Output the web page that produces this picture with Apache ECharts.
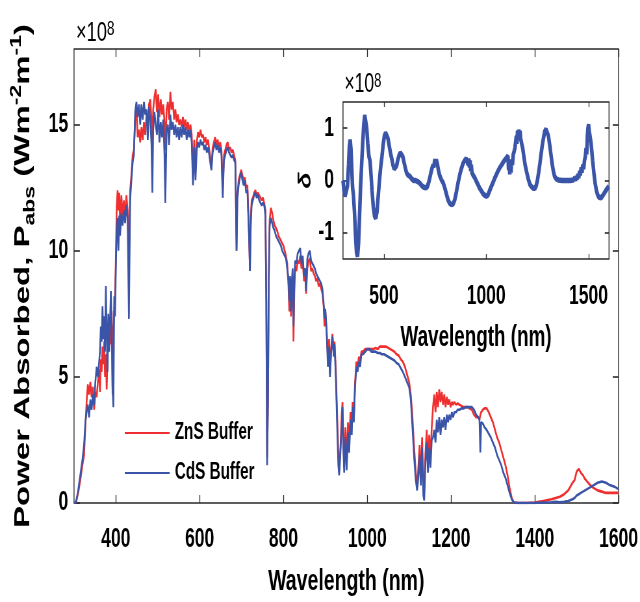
<!DOCTYPE html>
<html><head><meta charset="utf-8">
<script src="https://cdn.jsdelivr.net/npm/echarts@6/dist/echarts.min.js"></script>
<style>
html,body{margin:0;padding:0;background:#fff;overflow:hidden;}
#wrap{width:640px;height:602px;overflow:hidden;position:relative;}
#c{width:985px;height:602px;transform:scaleX(0.649746);transform-origin:0 0;position:absolute;left:0;top:0;}
</style></head><body><div id="wrap"><div id="c"></div></div>
<script>
// ---------- DATA (power absorbed, units of 1e8 W m^-2 m^-1) ----------
const wavelength = [300,305,310,315,320,324,327,330,333,336,339,342,345,348,351,354,357,360,362,364,366,368,370,372,374,376,378,380,382,384,386,388,390,392,394,396,398,400,402,404,406,408,410,413,416,419,422,425,428,431,434,437,440,443,446,449,452,455,458,461,464,467,470,473,476,479,482,485,487,489,492,495,498,501,504,507,510,513,516,518,521,524,527,530,533,536,539,542,545,548,551,554,557,560,563,566,569,572,575,578,581,584,587,590,593,596,599,602,605,608,611,614,617,620,623,626,628,631,634,637,640,643,646,649,652,655,658,661,664,667,670,673,676,679,682,685,687,688,690,693,696,699,702,705,708,711,714,716,718,720,722,724,727,730,733,736,739,742,745,748,751,754,757,759,761,763,765,767,770,773,776,779,782,785,788,791,794,797,800,803,806,809,812,814,816,818,820,822,824,826,828,831,834,837,840,843,846,849,852,854,857,860,863,866,869,872,875,878,881,884,887,890,893,896,898,900,903,906,909,911,914,917,920,922,925,928,931,933,936,939,941,943,945,948,951,954,957,960,963,965,968,971,974,977,980,983,986,990,995,1000,1005,1010,1015,1020,1025,1030,1035,1040,1045,1050,1055,1060,1065,1070,1075,1080,1085,1090,1095,1100,1104,1108,1112,1116,1119,1122,1125,1128,1131,1134,1136,1139,1142,1145,1148,1151,1154,1157,1160,1163,1166,1169,1172,1175,1178,1181,1184,1187,1190,1193,1196,1199,1202,1205,1208,1212,1216,1220,1225,1230,1235,1240,1245,1250,1255,1260,1265,1268,1270,1272,1276,1280,1285,1290,1295,1300,1305,1310,1315,1320,1325,1330,1335,1340,1345,1350,1360,1380,1400,1420,1440,1450,1460,1470,1480,1490,1495,1500,1505,1510,1515,1520,1530,1540,1550,1560,1570,1580,1590,1600];
const znsBuffer = [0,0.05,0.4,0.9,1.5,1.9,3.0,4.0,4.7,4.3,4.8,4.2,4.6,3.7,4.4,4.2,4.8,5.3,4.4,5.7,5.2,6.2,5.5,6.4,5.0,5.9,4.5,5.8,6.6,6.2,6.9,6.3,7.6,4.3,6.8,7.6,8.2,9.8,11.8,12.4,11.6,12.3,11.0,12.2,11.4,12.0,11.3,12.2,11.6,9.5,12.4,13.0,13.8,14.0,15.2,15.6,14.5,14.8,14.3,14.9,14.4,15.1,14.6,15.4,15.0,15.8,16.0,15.2,14.2,15.6,16.1,16.4,15.5,16.2,15.3,16.0,15.4,15.8,15.1,14.0,15.6,15.9,15.2,16.3,15.6,15.9,15.2,15.6,15.1,15.4,15.0,15.2,14.9,15.3,14.9,15.2,14.8,15.1,14.7,15.0,14.6,13.0,14.4,13.2,14.3,14.7,14.5,14.8,14.5,14.6,14.3,14.5,14.2,14.4,14.0,13.6,13.3,14.1,14.3,14.5,14.2,14.4,14.1,14.3,14.0,12.4,13.8,14.0,14.2,14.3,14.0,14.1,13.9,14.0,13.8,13.6,11.5,10.0,12.2,12.8,13.0,13.2,13.0,12.8,12.9,12.5,12.6,11.6,10.6,9.2,11.3,12.0,12.1,12.3,12.4,12.2,12.3,12.2,12.1,12.0,12.1,11.9,11.6,8.0,1.8,4.0,9.0,11.2,11.7,11.5,11.2,11.0,10.9,10.8,10.6,10.5,10.4,10.3,10.2,10.0,9.8,9.5,8.6,7.6,8.8,7.4,8.6,9.0,6.4,8.4,9.4,9.2,9.6,9.5,9.8,9.3,9.6,8.8,9.0,8.3,9.3,9.6,9.7,9.2,9.3,9.1,9.0,8.8,8.9,8.6,8.7,8.5,8.3,7.8,7.0,7.6,6.8,5.8,6.5,5.1,6.2,6.7,6.0,6.4,5.3,3.6,2.0,1.3,2.2,3.5,4.0,2.5,1.4,3.0,1.6,3.2,2.4,3.6,3.0,4.0,3.4,4.8,5.6,5.4,5.8,5.6,6.0,6.0,6.1,6.1,6.1,6.1,6.1,6.15,6.1,6.2,6.2,6.2,6.2,6.15,6.1,6.05,6.0,5.9,5.85,5.7,5.6,5.4,5.1,4.8,4.3,3.4,2.2,1.2,0.6,1.4,2.3,1.0,2.6,0.6,0.5,2.0,2.9,1.6,2.7,1.8,3.0,3.8,4.3,3.6,4.4,3.8,4.5,4.0,4.4,3.9,4.3,3.8,4.2,3.9,4.1,3.8,4.0,3.9,4.0,3.9,3.95,3.9,3.85,3.8,3.8,3.8,3.75,3.7,3.5,3.4,3.4,3.3,3.5,3.6,3.7,3.75,3.75,3.6,3.4,3.2,2.9,2.6,2.4,2.1,1.8,1.5,1.1,0.6,0.2,0.02,0,0,0.02,0.08,0.15,0.2,0.25,0.35,0.5,0.8,0.9,1.25,1.35,1.2,1.1,0.95,0.75,0.6,0.5,0.45,0.4,0.4,0.4,0.4];
const cdsBuffer = [0,0.05,0.5,1.1,1.7,2.3,3.2,3.6,3.9,3.4,4.1,3.7,4.3,3.9,4.8,5.4,5.0,5.6,6.0,7.0,6.4,7.8,6.5,7.4,6.0,8.6,6.8,5.2,7.5,6.0,7.2,8.4,7.0,4.6,3.8,8.2,7.4,9.5,10.8,11.3,10.0,11.4,10.6,11.5,11.0,11.6,11.1,11.8,11.3,7.3,12.0,12.8,13.5,13.8,15.5,15.9,15.3,15.8,15.0,15.8,15.2,15.9,15.4,15.6,14.4,15.7,15.2,14.2,12.3,14.8,15.5,15.0,14.6,15.6,14.3,15.1,14.5,15.2,13.8,11.9,14.8,15.0,14.2,15.4,14.8,15.1,14.6,15.0,14.5,14.9,14.4,14.9,14.5,15.0,14.6,14.9,14.4,14.8,14.5,14.8,14.3,12.6,14.1,12.8,14.0,14.3,14.1,14.4,14.2,14.3,14.0,14.2,13.9,14.1,13.8,13.4,13.2,13.9,14.1,14.3,14.0,14.2,13.9,14.1,13.8,12.1,13.6,13.8,14.0,14.1,13.9,13.9,13.7,13.8,13.6,13.5,11.3,10.0,12.0,12.6,12.9,13.1,12.8,12.6,12.8,12.3,12.4,11.4,10.5,9.2,11.0,11.8,12.0,12.2,12.3,12.1,12.2,12.0,12.0,11.8,11.9,11.8,11.4,8.0,1.5,4.0,8.8,11.0,11.3,11.1,10.9,10.8,10.6,10.5,10.4,10.3,10.2,10.0,10.0,9.8,9.7,9.3,8.9,8.0,9.0,7.6,8.8,9.3,7.0,8.8,9.6,9.5,9.9,10.0,10.1,9.5,9.8,9.0,9.3,8.4,9.7,9.9,10.0,9.6,9.6,9.4,9.3,9.1,9.1,8.9,8.8,8.7,8.5,7.9,7.3,7.7,6.9,5.4,6.2,5.0,6.0,6.6,5.8,6.3,5.0,3.2,1.5,1.1,2.0,3.0,3.8,2.2,1.2,2.6,1.3,2.8,2.0,3.3,2.7,3.8,3.2,4.6,5.4,5.2,5.6,5.4,5.9,5.9,6.0,6.1,6.1,6.0,6.0,6.0,5.95,5.95,5.9,5.9,5.85,5.8,5.75,5.7,5.65,5.55,5.5,5.35,5.2,5.0,4.8,4.6,4.1,3.0,1.8,0.9,0.5,1.0,1.9,0.7,2.2,0.3,0.1,1.6,2.4,1.2,2.2,1.4,2.5,2.6,2.9,2.4,3.3,2.8,3.4,2.7,3.3,3.0,3.4,2.9,3.5,3.2,3.5,3.3,3.6,3.4,3.6,3.6,3.7,3.7,3.75,3.75,3.8,3.8,3.8,3.8,3.7,3.5,3.4,3.3,2.0,3.2,3.15,3.0,2.9,2.75,2.6,2.4,2.2,1.9,1.7,1.5,1.2,1.0,0.7,0.4,0.15,0.02,0,0,0,0.02,0.03,0.05,0.03,0.05,0.08,0.15,0.2,0.3,0.35,0.4,0.45,0.5,0.6,0.7,0.8,0.85,0.8,0.7,0.65,0.55];
// inset: difference delta (units of 1e8)
const insetWavelength = [300,305,310,316,322,327,331,335,339,343,347,351,356,361,366,371,376,381,386,391,396,401,406,411,416,421,427,432,437,442,448,454,460,466,472,478,484,490,496,502,508,514,520,526,532,538,544,550,556,562,568,574,580,586,592,598,604,610,618,627,636,645,655,665,675,685,695,705,712,720,728,734,740,744,747,750,753,756,759,762,766,772,780,790,798,806,814,822,830,838,846,854,862,870,878,886,894,902,908,912,915,918,921,924,927,930,936,944,952,960,968,976,984,992,1000,1008,1016,1024,1032,1040,1048,1056,1064,1072,1080,1088,1096,1102,1106,1109,1112,1115,1118,1121,1124,1128,1132,1136,1140,1144,1147,1150,1153,1156,1159,1162,1165,1168,1172,1178,1184,1190,1198,1206,1214,1222,1230,1238,1244,1250,1256,1262,1268,1274,1280,1286,1292,1298,1304,1310,1316,1322,1328,1334,1342,1352,1370,1390,1410,1426,1432,1436,1440,1444,1448,1452,1456,1460,1464,1468,1472,1476,1480,1484,1488,1491,1494,1497,1500,1503,1506,1509,1512,1516,1520,1526,1532,1538,1544,1550,1556,1562,1568,1574,1580,1588,1596,1600];
const insetDelta = [0.0,-0.2,-0.3,-0.32,-0.1,0.3,0.65,0.78,0.6,0.2,-0.15,-0.28,-0.6,-1.05,-1.38,-1.45,-1.2,-0.65,-0.1,0.3,0.7,1.05,1.25,1.25,1.0,0.7,0.45,0.38,0.1,-0.2,-0.5,-0.68,-0.72,-0.6,-0.3,0.0,0.25,0.45,0.68,0.85,0.91,0.9,0.8,0.66,0.52,0.42,0.3,0.22,0.22,0.28,0.4,0.48,0.53,0.53,0.46,0.35,0.25,0.15,0.1,0.08,0.03,0.0,0.0,-0.02,-0.05,-0.1,-0.13,-0.14,-0.12,-0.02,0.12,0.22,0.3,0.25,0.36,0.4,0.3,0.4,0.35,0.3,0.2,0.1,0.02,-0.05,-0.15,-0.27,-0.38,-0.44,-0.46,-0.45,-0.37,-0.22,-0.05,0.1,0.22,0.32,0.38,0.42,0.44,0.3,0.42,0.25,0.38,0.18,0.3,0.15,0.1,0.05,-0.02,-0.08,-0.15,-0.2,-0.25,-0.28,-0.3,-0.28,-0.2,-0.12,-0.05,0.03,0.1,0.17,0.23,0.28,0.33,0.38,0.42,0.45,0.47,0.2,0.4,0.12,0.35,0.15,0.4,0.3,0.5,0.55,0.62,0.6,0.85,0.7,0.95,0.8,0.97,0.85,0.95,0.8,0.78,0.62,0.45,0.3,0.15,0.02,-0.08,-0.12,-0.15,-0.15,-0.1,0.0,0.15,0.32,0.5,0.68,0.82,0.94,0.98,0.95,0.85,0.68,0.5,0.32,0.18,0.08,0.03,0.01,0.0,0.0,0.0,0.01,0.05,0.0,0.08,0.02,0.12,0.05,0.18,0.1,0.25,0.15,0.3,0.22,0.38,0.45,0.62,0.5,0.85,1.0,1.07,0.95,0.98,0.8,0.72,0.55,0.38,0.15,-0.05,-0.18,-0.27,-0.32,-0.34,-0.33,-0.3,-0.26,-0.22,-0.17,-0.13,-0.11];
const seriesNames = ['ZnS Buffer', 'CdS Buffer'];
const xTicks = [400, 600, 800, 1000, 1200, 1400, 1600];
const yTicks = [0, 5, 10, 15];
const insetXTicks = [500, 1000, 1500];
const insetYTicks = [-1, 0, 1];

// ---------- CHART ----------
const FONT = 'Liberation Sans';
const RED = '#ef2f2f', BLUE = '#3a54a8', AX = '#2a2a2a';
const pairs = (xs, ys) => xs.map((x, i) => [x, ys[i]]);
const plain = v => String(v);

function xAx(grid, pos, ticks, len, show, extra) {
  return Object.assign({
    type: 'value', gridIndex: grid, position: pos, min: 300, max: 1600,
    axisLine: { show: false, onZero: false }, splitLine: { show: false },
    axisTick: { show: true, inside: true, length: len, customValues: ticks, lineStyle: { color: AX, width: 1.3 } },
    axisLabel: { show: show, customValues: ticks, formatter: plain, fontFamily: FONT, fontWeight: 'bold', fontSize: 27, color: '#000', margin: 23 }
  }, extra || {});
}
function yAx(grid, pos, mn, mx, ticks, len, show, extra) {
  return Object.assign({
    type: 'value', gridIndex: grid, position: pos, min: mn, max: mx,
    axisLine: { show: false, onZero: false }, splitLine: { show: false },
    axisTick: { show: true, inside: true, length: len, customValues: ticks, lineStyle: { color: AX, width: 1.6 } },
    axisLabel: { show: show, customValues: ticks, formatter: plain, fontFamily: FONT, fontWeight: 'bold', fontSize: 27, color: '#000', margin: 9 }
  }, extra || {});
}

const chart = echarts.init(document.getElementById('c'), null, { renderer: 'canvas' });
chart.setOption({
  animation: false,
  backgroundColor: '#fff',
  grid: [
    { left: 113.9, right: 30.8, top: 49, bottom: 97, show: true, borderColor: AX, borderWidth: 1.4, backgroundColor: '#fff' },
    { left: 527.9, width: 409.4, top: 102, height: 157, show: true, borderColor: AX, borderWidth: 1.4, backgroundColor: '#fff', z: 5 }
  ],
  xAxis: [
    xAx(0, 'bottom', xTicks, 8, true, {
      name: 'Wavelength (nm)', nameLocation: 'middle', nameGap: 64,
      nameTextStyle: { fontFamily: FONT, fontWeight: 'bold', fontSize: 30, color: '#000' }
    }),
    xAx(0, 'top', xTicks, 8, false),
    xAx(1, 'bottom', insetXTicks, 5, true, {
      z: 6,
      name: 'Wavelength (nm)', nameLocation: 'middle', nameGap: 64,
      nameTextStyle: { fontFamily: FONT, fontWeight: 'bold', fontSize: 29, color: '#000' },
      axisLabel: { customValues: insetXTicks, formatter: plain, fontFamily: FONT, fontWeight: 'bold', fontSize: 27, color: '#000', margin: 24 }
    }),
    xAx(1, 'top', insetXTicks, 5, false, { z: 6 })
  ],
  yAxis: [
    yAx(0, 'left', 0, 18, yTicks, 9, true, {
      name: '{b|Power Absorbed, P}{s|abs}{b| (Wm}{u|-2}{b|m}{u|-1}{b|)}',
      nameLocation: 'middle', nameGap: 56, nameRotate: 90,
      nameTextStyle: {
        color: '#000',
        rich: {
          b: { fontFamily: FONT, fontWeight: 'bold', fontSize: 33, lineHeight: 44, color: '#000' },
          s: { fontFamily: FONT, fontWeight: 'bold', fontSize: 23, lineHeight: 23, verticalAlign: 'bottom', color: '#000' },
          u: { fontFamily: FONT, fontWeight: 'bold', fontSize: 23, lineHeight: 23, verticalAlign: 'top', color: '#000' }
        }
      }
    }),
    yAx(0, 'right', 0, 18, yTicks, 9, false),
    yAx(1, 'left', -1.5, 1.5, insetYTicks, 6.6, true, {
      z: 6,
      axisLabel: { customValues: insetYTicks, formatter: plain, fontFamily: FONT, fontWeight: 'bold', fontSize: 27, color: '#000', margin: 14 },
      name: 'δ', nameLocation: 'middle', nameGap: 44, nameRotate: 90,
      nameTextStyle: { fontFamily: FONT, fontWeight: 'bold', fontStyle: 'italic', fontSize: 27, color: '#000' }
    }),
    yAx(1, 'right', -1.5, 1.5, insetYTicks, 6.6, false, { z: 6 })
  ],
  legend: {
    orient: 'vertical', left: 187, top: 415, itemGap: 14,
    icon: 'rect', itemWidth: 69, itemHeight: 1.8,
    data: seriesNames,
    textStyle: { fontFamily: FONT, fontWeight: 'bold', fontSize: 23.5, lineHeight: 26, color: '#000', padding: [0, 0, 0, 3] }
  },
  graphic: [
    { type: 'text', left: 117, top: 19, style: { text: '×10{u|8}', font: '28px "Liberation Sans"', fill: '#000',
      rich: { u: { fontSize: 21, fontFamily: FONT, verticalAlign: 'top', lineHeight: 18 } } } },
    { type: 'text', left: 530, top: 71, style: { text: '×10{u|8}', font: '27px "Liberation Sans"', fill: '#000',
      rich: { u: { fontSize: 20, fontFamily: FONT, verticalAlign: 'top', lineHeight: 17 } } } }
  ],
  series: [
    { type: 'line', name: seriesNames[0], xAxisIndex: 0, yAxisIndex: 0, data: pairs(wavelength, znsBuffer),
      showSymbol: false, symbol: 'none', lineStyle: { color: RED, width: 2.6 }, itemStyle: { color: RED }, z: 2 },
    { type: 'line', name: seriesNames[1], xAxisIndex: 0, yAxisIndex: 0, data: pairs(wavelength, cdsBuffer),
      showSymbol: false, symbol: 'none', lineStyle: { color: BLUE, width: 2.6 }, itemStyle: { color: BLUE }, z: 3 },
    { type: 'line', name: 'delta', xAxisIndex: 2, yAxisIndex: 2, data: pairs(insetWavelength, insetDelta),
      showSymbol: false, symbol: 'none', lineStyle: { color: BLUE, width: 5.5 }, itemStyle: { color: BLUE }, z: 7 }
  ]
});
</script></body></html>
